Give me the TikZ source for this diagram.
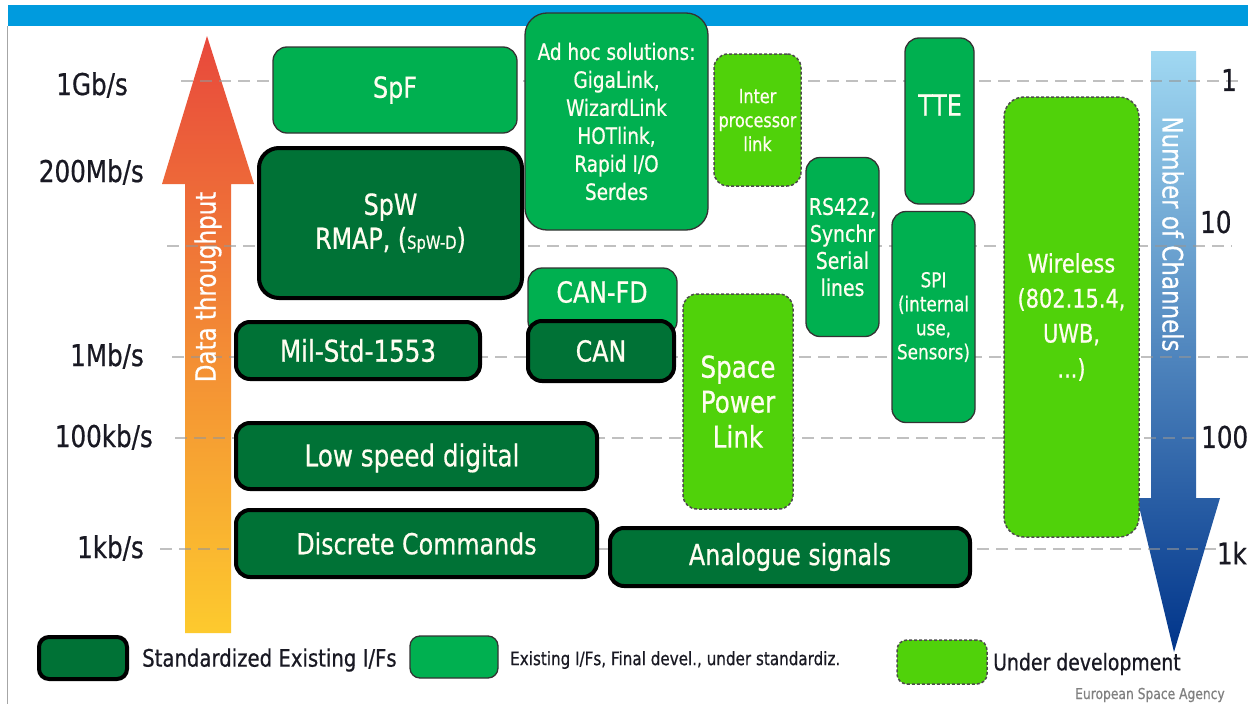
\documentclass[tikz,border=0pt]{standalone}
\usepackage{fontspec}
\setmainfont{DejaVu Sans}[FakeStretch=0.82, FakeBold=0.6]
\definecolor{dkgreen}{RGB}{0,114,54}
\definecolor{mdgreen}{RGB}{0,176,80}
\definecolor{ltgreen}{RGB}{80,210,10}
\definecolor{barblue}{RGB}{0,155,222}
\definecolor{gridgray}{RGB}{150,150,150}
\definecolor{labelink}{RGB}{25,25,35}
\definecolor{arrtop}{RGB}{232,72,60}
\definecolor{arrbot}{RGB}{253,202,46}
\definecolor{chtop}{RGB}{160,216,242}
\definecolor{chbot}{RGB}{0,52,138}
\definecolor{boxink}{RGB}{255,253,240}
\newcommand\myfs[2]{\fontsize{#1}{#2}\selectfont}
\begin{document}
\begin{tikzpicture}[x=1pt,y=-1pt,
  box/.style={inner sep=0pt, outer sep=0pt, text=boxink, align=center},
  stdbox/.style={box, fill=dkgreen, draw=black, line width=4pt, rounded corners=14pt},
  exbox/.style={box, fill=mdgreen, draw=black!80, line width=1.3pt, rounded corners=14pt},
  devbox/.style={box, fill=ltgreen, draw=black!70, line width=1.5pt, dash pattern=on 3pt off 2pt, rounded corners=14pt},
  gridline/.style={draw=gridgray, line width=2pt, dash pattern=on 12pt off 7pt, opacity=0.6},
  axislabel/.style={inner sep=0pt, text=labelink, font=\myfs{30}{30}},
  legendtext/.style={inner sep=0pt, anchor=west, text=labelink},
  boxlabel/.style={inner sep=0pt, text=boxink, align=center}
]
\useasboundingbox (0,0) rectangle (1248,704);
\fill[white] (0,0) rectangle (1248,704);
% frame
\fill[barblue] (8,5) rectangle (1248,26);
\draw[gray!70, line width=1pt] (7.5,26) -- (7.5,704);

% data throughput arrow
\shade[top color=arrtop, bottom color=arrbot]
  (185,633) -- (185,184) -- (162,184) -- (207,36) -- (254,184) -- (231,184) -- (231,633) -- cycle;
% number of channels arrow
\shade[top color=chtop, bottom color=chbot]
  (1151,51) -- (1196,51) -- (1196,498) -- (1220,498) -- (1174,652) -- (1137,498) -- (1151,498) -- cycle;

% grid lines
\draw[gridline] (181,81) -- (1240,81);
\draw[gridline] (167,246) -- (1232,246);
\draw[gridline] (172,357) -- (1248,357);
\draw[gridline] (175,438) -- (1197,438);
\draw[gridline] (160,549) -- (1216,549);

% arrow labels
\node[boxlabel, text=white, rotate=90, font=\myfs{28}{28}] (dt) at (208,287) {Data throughput};
\node[boxlabel, text=white, rotate=-90, font=\myfs{28}{28}] (nc) at (1173,234) {Number of Channels};

% axis labels left
\node[axislabel, anchor=east] (l1g) at (128,85) {1Gb/s};
\node[axislabel, anchor=east] (l200m) at (144,172) {200Mb/s};
\node[axislabel, anchor=east] (l1m) at (144,356) {1Mb/s};
\node[axislabel, anchor=east] (l100k) at (153,437) {100kb/s};
\node[axislabel, anchor=east] (l1k) at (144,548) {1kb/s};
% axis labels right
\node[axislabel, anchor=west] (r1) at (1221,80) {1};
\node[axislabel, anchor=west] (r10) at (1200,222) {10};
\node[axislabel, anchor=west] (r100) at (1201,437) {100};
\node[axislabel, anchor=east] (r1k) at (1247,553) {1k};

% boxes
\node[exbox, minimum width=244pt, minimum height=86pt, font=\myfs{29}{29}] (spf) at (395,90) {SpF};
\node[stdbox, rounded corners=20pt, minimum width=263pt, minimum height=150pt, font=\myfs{29}{34}] (spw) at (390.5,223) {SpW\\RMAP, ({\myfs{18}{20}SpW-D})};
\node[exbox, rounded corners=22pt, minimum width=183pt, minimum height=217pt, font=\myfs{22.5}{28}] (adhoc) at (616.5,121.5) {Ad hoc solutions:\\GigaLink,\\WizardLink\\HOTlink,\\Rapid I/O\\Serdes};
\node[devbox, minimum width=87pt, minimum height=132pt, font=\myfs{19.5}{24}] (ipl) at (757.5,120) {Inter\\processor\\link};
\node[exbox, minimum width=69pt, minimum height=166pt] (tte) at (939.5,121) {};
\node[boxlabel, font=\myfs{29}{29}] (ttelabel) at (940,105) {TTE};
\node[exbox, minimum width=73pt, minimum height=179pt, font=\myfs{23}{27}] (rs422) at (842.5,247) {RS422,\\Synchr\\Serial\\lines};
\node[exbox, minimum width=83pt, minimum height=211pt, font=\myfs{20.5}{24}] (spi) at (933.5,317) {SPI\\(internal\\use,\\Sensors)};
\node[devbox, rounded corners=20pt, minimum width=135pt, minimum height=440pt, font=\myfs{25.5}{35}] (wl) at (1071.5,317) {Wireless\\(802.15.4,\\UWB,\\...)};
\node[exbox, minimum width=149pt, minimum height=67pt] (canfd) at (602.5,301.5) {};
\node[boxlabel, font=\myfs{29}{29}] (canfdlabel) at (602,292) {CAN-FD};
\node[stdbox, minimum width=146pt, minimum height=60pt, font=\myfs{29}{29}] (can) at (601,351) {CAN};
\node[stdbox, minimum width=244pt, minimum height=57pt, font=\myfs{30}{30}] (mil) at (358,350.5) {Mil-Std-1553};
\node[devbox, minimum width=110pt, minimum height=215pt, font=\myfs{30}{35}] (spl) at (738,401.5) {Space\\Power\\Link};
\node[stdbox, minimum width=361pt, minimum height=66pt] (lsd) at (416.5,456) {};
\node[boxlabel, font=\myfs{30}{30}] (lsdlabel) at (412,458) {Low speed digital};
\node[stdbox, minimum width=361pt, minimum height=67pt, font=\myfs{29}{29}] (dc) at (416.5,543.5) {Discrete Commands};
\node[stdbox, minimum width=360pt, minimum height=58pt, font=\myfs{29}{29}] (an) at (790,557) {Analogue signals};

% legend
\node[stdbox, rounded corners=10pt, minimum width=88pt, minimum height=42pt] (lgstd) at (83,658) {};
\node[legendtext, font=\myfs{24}{24}] (lgstdt) at (142,660) {Standardized Existing I/Fs};
\node[exbox, rounded corners=10pt, minimum width=88pt, minimum height=42pt] (lgex) at (454,657) {};
\node[legendtext, font=\myfs{18.5}{19}] (lgext) at (510,660) {Existing I/Fs, Final devel., under standardiz.};
\node[devbox, rounded corners=10pt, minimum width=90pt, minimum height=44pt] (lgdev) at (942,662) {};
\node[legendtext, font=\myfs{23}{23}] (lgdevt) at (993,664) {Under development};
\node[legendtext, text=gray, font=\myfs{15}{15}] (esa) at (1075,695) {European Space Agency};
\end{tikzpicture}
\end{document}
